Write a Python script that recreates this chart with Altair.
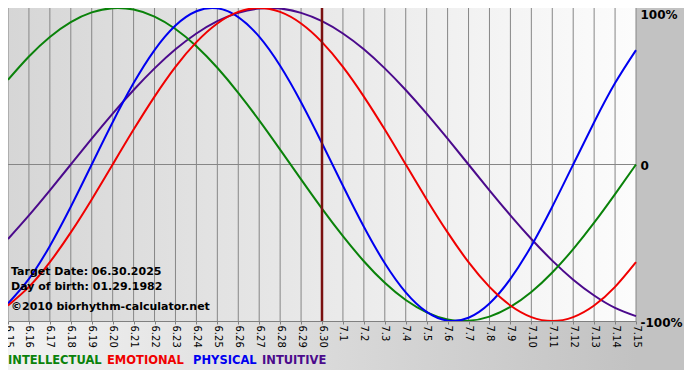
import altair as alt
import pandas as pd

# ---- data ----
days = ["6.15", "6.16", "6.17", "6.18", "6.19", "6.20", "6.21", "6.22", "6.23", "6.24",
        "6.25", "6.26", "6.27", "6.28", "6.29", "6.30", "7.1", "7.2", "7.3", "7.4",
        "7.5", "7.6", "7.7", "7.8", "7.9", "7.10", "7.11", "7.12", "7.13", "7.14", "7.15"]

intellectual = [54.1, 69.0, 81.5, 91.0, 97.2, 99.9, 99.0, 94.5, 86.6, 75.6,
                61.8, 45.8, 28.2, 9.5, -9.5, -28.2, -45.8, -61.8, -75.6, -86.6,
                -94.5, -99.0, -99.9, -97.2, -91.0, -81.5, -69.0, -54.1, -37.2, -18.9, 0.0]
emotional = [-90.1, -78.2, -62.4, -43.4, -22.3, 0.0, 22.3, 43.4, 62.4, 78.2,
             90.1, 97.5, 100.0, 97.5, 90.1, 78.2, 62.4, 43.4, 22.3, 0.0,
             -22.3, -43.4, -62.4, -78.2, -90.1, -97.5, -100.0, -97.5, -90.1, -78.2, -62.4]
physical = [-88.8, -73.1, -52.0, -27.0, 0.0, 27.0, 52.0, 73.1, 88.8, 97.9,
            99.8, 94.2, 81.7, 63.1, 39.8, 13.6, -13.6, -39.8, -63.1, -81.7,
            -94.2, -99.8, -97.9, -88.8, -73.1, -52.0, -27.0, 0.0, 27.0, 52.0, 73.1]
intuitive = [-47.6, -32.5, -16.5, 0.0, 16.5, 32.5, 47.6, 61.4, 73.6, 83.7,
             91.6, 96.9, 99.7, 99.7, 96.9, 91.6, 83.7, 73.6, 61.4, 47.6,
             32.5, 16.5, 0.0, -16.5, -32.5, -47.6, -61.4, -73.6, -83.7, -91.6, -96.9]

series_names = ["INTELLECTUAL", "EMOTIONAL", "PHYSICAL", "INTUITIVE"]
series_colors = ["#0a820a", "#f00000", "#0000f0", "#4b0a8c"]
draw_order = ["INTUITIVE", "INTELLECTUAL", "PHYSICAL", "EMOTIONAL"]

target_day = "6.30"
info_lines = ["Target Date: 06.30.2025", "Day of birth: 01.29.1982", "\u00a92010 biorhythm-calculator.net"]

y_ticks = [-100, 0, 100]
y_labels = ["-100%", "0", "100%"]

# ---- tables ----
series_values = dict(zip(series_names, [intellectual, emotional, physical, intuitive]))
rows = []
for name in draw_order:
    for d, v in zip(days, series_values[name]):
        rows.append({"day": d, "value": v, "series": name, "order": draw_order.index(name)})
df = pd.DataFrame(rows)
days_df = pd.DataFrame({"day": days})
zero_df = pd.DataFrame({"value": [0]})
target_df = pd.DataFrame({"day": [target_day]})
blank = pd.DataFrame({"a": [0]})

W, H = 628, 313
PAD_R, PAD_B = 48, 51
FONT = "DejaVu Sans"

x_enc = alt.X(
    "day:O", sort=days,
    scale=alt.Scale(type="point", padding=0, domain=days),
    axis=alt.Axis(
        title=None, labelAngle=90, labelAlign="left", labelBaseline="middle",
        labelFont=FONT, labelFontSize=10, labelColor="#000000",
        tickSize=3, tickColor="#808080", domainColor="#808080",
        labelPadding=1, grid=False, labelOverlap=False, zindex=1,
    ),
)
label_expr = "[" + ",".join("'%s'" % s for s in y_labels) + "][indexof([" + \
    ",".join(str(v) for v in y_ticks) + "], datum.value)]"
y_enc = alt.Y(
    "value:Q",
    scale=alt.Scale(domain=[-100, 100], nice=False, zero=False),
    axis=alt.Axis(
        orient="right", title=None, values=y_ticks, labelExpr=label_expr,
        grid=False, domain=False, ticks=False, labelFont=FONT,
        labelFontSize=12, labelFontWeight="bold", labelColor="#000000",
        labelPadding=4, labelFlush=False, zindex=1,
        labelBaseline={"condition": {"test": "datum.value == 100", "value": "top"}, "value": "middle"},
        labelOffset=1,
    ),
)

outer_grad = alt.Gradient(
    gradient="linear", x1=0, x2=1, y1=0, y2=0,
    stops=[alt.GradientStop(color="#f2f2f2", offset=0),
           alt.GradientStop(color="#c2c2c2", offset=0.93),
           alt.GradientStop(color="#c2c2c2", offset=1)],
)
plot_grad = alt.Gradient(
    gradient="linear", x1=0, x2=1, y1=0, y2=0,
    stops=[alt.GradientStop(color="#d6d6d6", offset=0),
           alt.GradientStop(color="#fcfcfc", offset=1)],
)

outer_bg = alt.Chart(blank).mark_rect(fill=outer_grad).encode(
    x=alt.value(0), x2=alt.value(W + PAD_R), y=alt.value(0), y2=alt.value(362))
plot_bg = alt.Chart(blank).mark_rect(fill=plot_grad).encode(
    x=alt.value(0), x2=alt.value(W), y=alt.value(0), y2=alt.value(H))

vgrid = alt.Chart(days_df).mark_rule(color="#868686", strokeWidth=1).encode(x=x_enc)
zero_line = alt.Chart(zero_df).mark_rule(color="#868686", strokeWidth=1).encode(y=y_enc)

lines = alt.Chart(df).mark_line(strokeWidth=2, interpolate="natural").encode(
    x=x_enc, y=y_enc,
    color=alt.Color("series:N", scale=alt.Scale(domain=series_names, range=series_colors), legend=None),
    detail="series:N",
    order="order:Q",
)

target = alt.Chart(target_df).mark_rule(color="#7a1010", strokeWidth=2.5).encode(x=x_enc)

info_layers = []
for line, yy in zip(info_lines, [264, 279, 299]):
    info_layers.append(
        alt.Chart(blank).mark_text(
            text=line, align="left", baseline="middle", font=FONT,
            fontSize=11, fontWeight="bold", color="#000000",
        ).encode(x=alt.value(3), y=alt.value(yy))
    )

legend_layers = []
for name, col, xx in zip(series_names, series_colors, [0, 99, 185, 254]):
    legend_layers.append(
        alt.Chart(blank).mark_text(
            text=name, align="left", baseline="middle", font=FONT,
            fontSize=11.5, fontWeight="bold", color=col,
        ).encode(x=alt.value(xx), y=alt.value(353))
    )

chart = alt.layer(
    outer_bg, plot_bg, vgrid, zero_line, lines, target, *info_layers, *legend_layers
).properties(
    width=W, height=H,
    autosize=alt.AutoSizeParams(type="none"),
    padding={"left": 0, "top": 0, "right": PAD_R, "bottom": PAD_B},
    background="#ffffff",
).configure_view(stroke=None)

chart.save("out.html", embed_options={"renderer": "svg", "actions": False})
